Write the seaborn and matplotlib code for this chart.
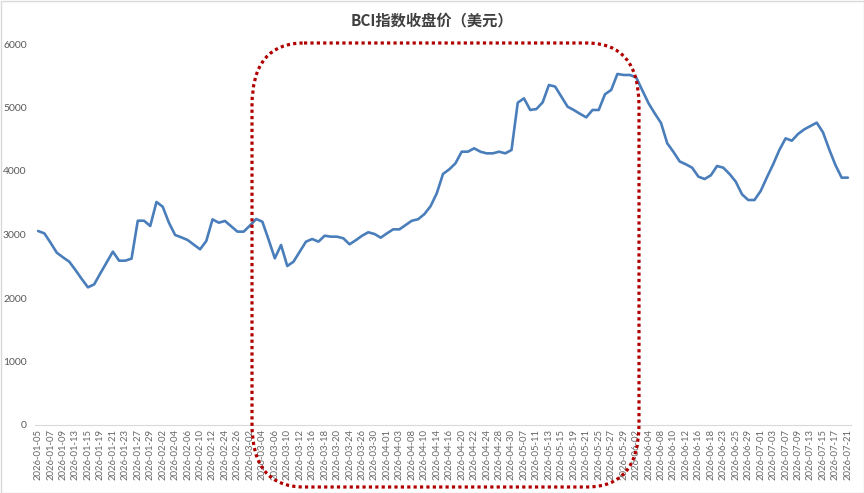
import pandas as pd
import seaborn as sns
import matplotlib.pyplot as plt
from matplotlib.patches import FancyBboxPatch, Rectangle

# trading days (weekdays minus the Chinese market holidays in the range)
holidays = ["2026-02-16", "2026-02-17", "2026-02-18", "2026-02-19", "2026-02-20",
            "2026-02-23", "2026-04-06", "2026-05-01", "2026-05-04", "2026-05-05",
            "2026-06-19"]
dates = [d.strftime("%Y-%m-%d") for d in pd.bdate_range("2026-01-05", "2026-07-21")
         if d.strftime("%Y-%m-%d") not in holidays]

close_jan = [3055, 3018, 2870, 2713, 2640, 2572, 2440, 2300, 2168, 2215,
             2390, 2560, 2730, 2588, 2588, 2620, 3217, 3217, 3134, 3512]
close_feb = [3438, 3186, 2992, 2955, 2913, 2840, 2767, 2898, 3238, 3186,
             3213, 3130, 3045, 3045]
close_mar = [3140, 3244, 3202, 2920, 2625, 2835, 2504, 2572, 2730, 2887,
             2929, 2887, 2981, 2966, 2966, 2940, 2846, 2910, 2980, 3035,
             3008, 2950]
close_apr = [3018, 3081, 3081, 3150, 3217, 3240, 3320, 3445, 3649, 3953,
             4026, 4121, 4304, 4304, 4357, 4304, 4278, 4278, 4304, 4278,
             4331]
close_may = [5076, 5144, 4961, 4976, 5081, 5354, 5330, 5170, 5013, 4960,
             4900, 4845, 4961, 4961, 5208, 5276, 5528, 5512]
close_jun = [5512, 5475, 5270, 5066, 4906, 4756, 4436, 4300, 4150, 4105,
             4052, 3911, 3874, 3932, 4079, 4052, 3953, 3832, 3633, 3543,
             3543]
close_jul = [3685, 3900, 4105, 4331, 4514, 4477, 4583, 4656, 4709, 4761,
             4609, 4341, 4094, 3895, 3895]

close = close_jan + close_feb + close_mar + close_apr + close_may + close_jun + close_jul
df = pd.DataFrame({"idx": range(len(dates)), "date": dates, "close": close})

sns.set_style("white")
plt.rcParams['font.family'] = ['Lato', 'Noto Sans CJK SC', 'DejaVu Sans']

fig = plt.figure(figsize=(8.64, 4.93), dpi=100)
ax = fig.add_axes([35 / 864, 1 - 425 / 493, 816 / 864, 381 / 493])
sns.lineplot(data=df, x="idx", y="close", ax=ax, color="#4A7EBB", linewidth=1.9)

ax.set_xlim(-0.5, len(dates) - 0.5)
ax.set_ylim(0, 6000)
ax.set_yticks(range(0, 6001, 1000))
ax.set_xticks(df["idx"][::2])
ax.set_xticklabels(df["date"][::2], rotation=90, fontsize=6.8, color="#666666")
ax.tick_params(axis="y", labelsize=7.5, labelcolor="#595959", length=0, pad=6)
ax.tick_params(axis="x", length=0, pad=3)
ax.set_xlabel("")
ax.set_ylabel("")
for s in ["top", "right", "left"]:
    ax.spines[s].set_visible(False)
ax.spines["bottom"].set_color("#D9D9D9")
ax.spines["bottom"].set_linewidth(0.8)

fig.text(0.5, 1 - 20 / 493, "BCI指数收盘价（美元）", ha="center", va="center",
         fontsize=11, fontweight="bold", color="#404040",
         family=['Noto Sans CJK SC', 'DejaVu Sans'])

# overlay in pixel units for the highlight box and the chart border
ov = fig.add_axes([0, 0, 1, 1], facecolor="none")
ov.set_xlim(0, 864)
ov.set_ylim(493, 0)
ov.axis("off")
ov.add_patch(Rectangle((0.5, 0.5), 863, 492, fill=False, edgecolor="#D9D9D9", linewidth=1))
box = FancyBboxPatch((252, 43), 387, 444, boxstyle="round,pad=0,rounding_size=52",
                     mutation_aspect=1.2,
                     fill=False, edgecolor="#B00000", linewidth=2.3,
                     linestyle=(0, (1, 1)), capstyle="butt")
ov.add_patch(box)

fig.savefig("out.png", dpi=100)
